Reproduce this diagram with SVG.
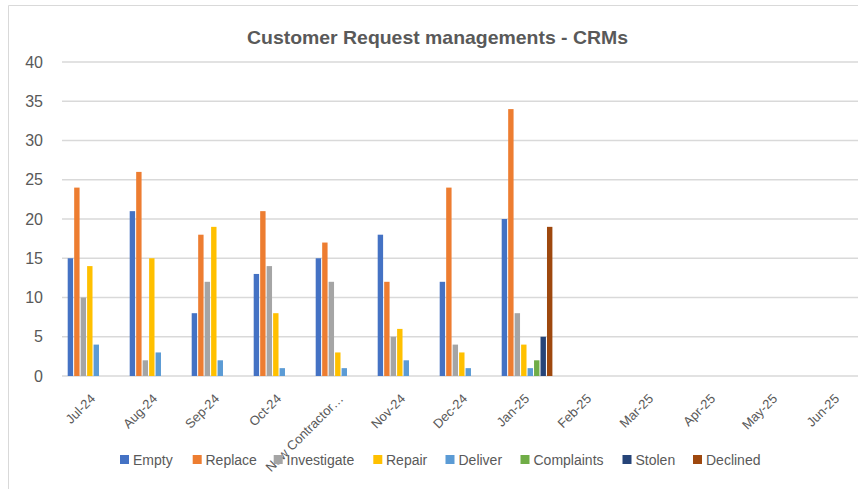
<svg xmlns="http://www.w3.org/2000/svg" width="858" height="489" viewBox="0 0 858 489">
<style>
.t{font-family:"Liberation Sans",Arial,sans-serif;fill:#595959}
.title{font-size:19px;font-weight:bold}
.ya{font-size:16px;text-anchor:end}
.xa{font-size:13px;text-anchor:end}
.lg{font-size:14px}
.grid{stroke:#d9d9d9;stroke-width:1.5}
.E{fill:#4472C4}.R{fill:#ED7D31}.I{fill:#A5A5A5}.P{fill:#FFC000}.D{fill:#5B9BD5}.C{fill:#70AD47}.S{fill:#264478}.X{fill:#9E480E}
</style>
<rect x="0" y="0" width="858" height="489" fill="#ffffff"/>
<path d="M8.5 489V5.5H858" fill="none" stroke="#d9d9d9" stroke-width="1"/>
<text class="t title" x="437.5" y="44" text-anchor="middle" textLength="381" lengthAdjust="spacingAndGlyphs">Customer Request managements - CRMs</text>
<g id="gridlines">
<line class="grid" x1="62" y1="62" x2="858" y2="62"/>
<line class="grid" x1="62" y1="101.25" x2="858" y2="101.25"/>
<line class="grid" x1="62" y1="140.5" x2="858" y2="140.5"/>
<line class="grid" x1="62" y1="179.75" x2="858" y2="179.75"/>
<line class="grid" x1="62" y1="219" x2="858" y2="219"/>
<line class="grid" x1="62" y1="258.25" x2="858" y2="258.25"/>
<line class="grid" x1="62" y1="297.5" x2="858" y2="297.5"/>
<line class="grid" x1="62" y1="336.75" x2="858" y2="336.75"/>
<line class="grid" x1="62" y1="376" x2="858" y2="376"/>
</g>
<g id="y-axis">
<text class="t ya" x="43" y="67.5">40</text>
<text class="t ya" x="43" y="106.75">35</text>
<text class="t ya" x="43" y="146">30</text>
<text class="t ya" x="43" y="185.25">25</text>
<text class="t ya" x="43" y="224.5">20</text>
<text class="t ya" x="43" y="263.75">15</text>
<text class="t ya" x="43" y="303">10</text>
<text class="t ya" x="43" y="342.25">5</text>
<text class="t ya" x="43" y="381.5">0</text>
</g>
<g id="bars">
<g id="jul24">
<rect class="E" x="67.7" y="258.25" width="5.4" height="117.75"/>
<rect class="R" x="74.17" y="187.6" width="5.4" height="188.4"/>
<rect class="I" x="80.64" y="297.5" width="5.4" height="78.5"/>
<rect class="P" x="87.11" y="266.1" width="5.4" height="109.9"/>
<rect class="D" x="93.58" y="344.6" width="5.4" height="31.4"/>
</g>
<g id="aug24" transform="translate(62,0)">
<rect class="E" x="67.7" y="211.15" width="5.4" height="164.85"/>
<rect class="R" x="74.17" y="171.9" width="5.4" height="204.1"/>
<rect class="I" x="80.64" y="360.3" width="5.4" height="15.7"/>
<rect class="P" x="87.11" y="258.25" width="5.4" height="117.75"/>
<rect class="D" x="93.58" y="352.45" width="5.4" height="23.55"/>
</g>
<g id="sep24" transform="translate(124,0)">
<rect class="E" x="67.7" y="313.2" width="5.4" height="62.8"/>
<rect class="R" x="74.17" y="234.7" width="5.4" height="141.3"/>
<rect class="I" x="80.64" y="281.8" width="5.4" height="94.2"/>
<rect class="P" x="87.11" y="226.85" width="5.4" height="149.15"/>
<rect class="D" x="93.58" y="360.3" width="5.4" height="15.7"/>
</g>
<g id="oct24" transform="translate(186,0)">
<rect class="E" x="67.7" y="273.95" width="5.4" height="102.05"/>
<rect class="R" x="74.17" y="211.15" width="5.4" height="164.85"/>
<rect class="I" x="80.64" y="266.1" width="5.4" height="109.9"/>
<rect class="P" x="87.11" y="313.2" width="5.4" height="62.8"/>
<rect class="D" x="93.58" y="368.15" width="5.4" height="7.85"/>
</g>
<g id="newcontractor" transform="translate(248,0)">
<rect class="E" x="67.7" y="258.25" width="5.4" height="117.75"/>
<rect class="R" x="74.17" y="242.55" width="5.4" height="133.45"/>
<rect class="I" x="80.64" y="281.8" width="5.4" height="94.2"/>
<rect class="P" x="87.11" y="352.45" width="5.4" height="23.55"/>
<rect class="D" x="93.58" y="368.15" width="5.4" height="7.85"/>
</g>
<g id="nov24" transform="translate(310,0)">
<rect class="E" x="67.7" y="234.7" width="5.4" height="141.3"/>
<rect class="R" x="74.17" y="281.8" width="5.4" height="94.2"/>
<rect class="I" x="80.64" y="336.75" width="5.4" height="39.25"/>
<rect class="P" x="87.11" y="328.9" width="5.4" height="47.1"/>
<rect class="D" x="93.58" y="360.3" width="5.4" height="15.7"/>
</g>
<g id="dec24" transform="translate(372,0)">
<rect class="E" x="67.7" y="281.8" width="5.4" height="94.2"/>
<rect class="R" x="74.17" y="187.6" width="5.4" height="188.4"/>
<rect class="I" x="80.64" y="344.6" width="5.4" height="31.4"/>
<rect class="P" x="87.11" y="352.45" width="5.4" height="23.55"/>
<rect class="D" x="93.58" y="368.15" width="5.4" height="7.85"/>
</g>
<g id="jan25" transform="translate(434,0)">
<rect class="E" x="67.7" y="219" width="5.4" height="157"/>
<rect class="R" x="74.17" y="109.1" width="5.4" height="266.9"/>
<rect class="I" x="80.64" y="313.2" width="5.4" height="62.8"/>
<rect class="P" x="87.11" y="344.6" width="5.4" height="31.4"/>
<rect class="D" x="93.58" y="368.15" width="5.4" height="7.85"/>
<rect class="C" x="100.05" y="360.3" width="5.4" height="15.7"/>
<rect class="S" x="106.52" y="336.75" width="5.4" height="39.25"/>
<rect class="X" x="112.99" y="226.85" width="5.4" height="149.15"/>
</g>
</g>
<g id="x-axis">
<text class="t xa" transform="translate(96.1,399.5) rotate(-45)">Jul-24</text>
<text class="t xa" transform="translate(158.1,399.5) rotate(-45)">Aug-24</text>
<text class="t xa" transform="translate(220.1,399.5) rotate(-45)">Sep-24</text>
<text class="t xa" transform="translate(282.1,399.5) rotate(-45)">Oct-24</text>
<text class="t xa" transform="translate(344.1,399.5) rotate(-45)">New Contractor…</text>
<text class="t xa" transform="translate(406.1,399.5) rotate(-45)">Nov-24</text>
<text class="t xa" transform="translate(468.1,399.5) rotate(-45)">Dec-24</text>
<text class="t xa" transform="translate(530.1,399.5) rotate(-45)">Jan-25</text>
<text class="t xa" transform="translate(592.1,399.5) rotate(-45)">Feb-25</text>
<text class="t xa" transform="translate(654.1,399.5) rotate(-45)">Mar-25</text>
<text class="t xa" transform="translate(716.1,399.5) rotate(-45)">Apr-25</text>
<text class="t xa" transform="translate(778.1,399.5) rotate(-45)">May-25</text>
<text class="t xa" transform="translate(840.1,399.5) rotate(-45)">Jun-25</text>
</g>
<g id="legend">
<rect class="E" x="120" y="455" width="9" height="9"/><text class="t lg" x="133" y="465">Empty</text>
<rect class="R" x="192.7" y="455" width="9" height="9"/><text class="t lg" x="205.5" y="465">Replace</text>
<rect class="I" x="273.7" y="455" width="9" height="9"/><text class="t lg" x="286.5" y="465">Investigate</text>
<rect class="P" x="373.3" y="455" width="9" height="9"/><text class="t lg" x="386" y="465">Repair</text>
<rect class="D" x="445.5" y="455" width="9" height="9"/><text class="t lg" x="458.5" y="465">Deliver</text>
<rect class="C" x="520.5" y="455" width="9" height="9"/><text class="t lg" x="533.5" y="465">Complaints</text>
<rect class="S" x="622.5" y="455" width="9" height="9"/><text class="t lg" x="635.5" y="465">Stolen</text>
<rect class="X" x="693" y="455" width="9" height="9"/><text class="t lg" x="706" y="465">Declined</text>
</g>
</svg>
